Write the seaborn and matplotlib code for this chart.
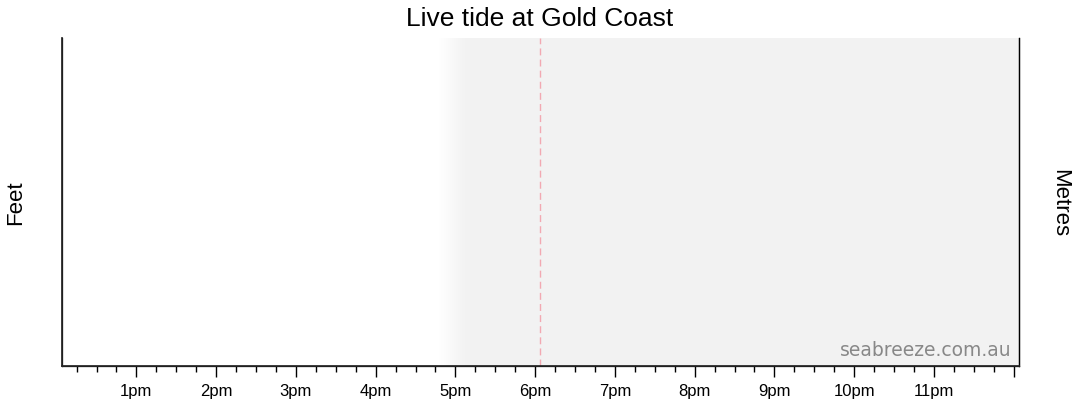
import matplotlib
matplotlib.use("Agg")
import matplotlib.pyplot as plt
import seaborn as sns
import numpy as np
import pandas as pd

# time axis in hours since midnight (window is now -6h .. now +6h)
window_start = 12 + 4 / 60
window_end = 24 + 4 / 60
now_time = 18 + 4 / 60
night_fade_start = 16.8
night_fade_end = 17.15

tick_hours = [13, 14, 15, 16, 17, 18, 19, 20, 21, 22, 23, 24]
tick_labels = ['1pm', '2pm', '3pm', '4pm', '5pm', '6pm', '7pm', '8pm', '9pm', '10pm', '11pm', '']

# no tide readings available for this window
tide_time = []
tide_height = []

sns.set_theme(style="ticks")
plt.rcParams['font.family'] = ['Liberation Sans', 'DejaVu Sans']
plt.rcParams['text.color'] = 'black'
plt.rcParams['axes.labelcolor'] = 'black'
plt.rcParams['xtick.color'] = 'black'
plt.rcParams['xtick.labelcolor'] = 'black'

fig = plt.figure(figsize=(10.8, 4.14), dpi=100)
ax = fig.add_axes([62 / 1080, 1 - 367 / 414, (1019 - 62) / 1080, (367 - 39) / 414])

df = pd.DataFrame({'time': tide_time, 'height': tide_height})
sns.lineplot(data=df, x='time', y='height', ax=ax, color='#1f77b4')

# night shading with a soft fade in
grad = np.linspace(0, 1, 64).reshape(1, -1)
fade_cmap = matplotlib.colors.LinearSegmentedColormap.from_list('fade', ['#ffffff', '#f2f2f2'])
ax.imshow(grad, extent=[night_fade_start, night_fade_end, 0, 1], aspect='auto',
          cmap=fade_cmap, zorder=0, interpolation='bilinear')
ax.axvspan(night_fade_end, window_end, color='#f2f2f2', lw=0, zorder=0)

ax.axvline(now_time, color='#f2a9b2', lw=1, ls=(0, (5, 3)), zorder=1)

ax.set_xlim(window_start, window_end)
ax.set_ylim(0, 1)
ax.set_xticks(tick_hours)
ax.set_xticklabels(tick_labels, fontsize=12)
ax.set_xticks(np.arange(12.25, 24.1, 0.25), minor=True)
ax.tick_params(axis='x', which='major', length=8, width=1, color='black', pad=4)
ax.tick_params(axis='x', which='minor', length=4, width=1, color='black')
ax.set_yticks([])
ax.set_xlabel('')
ax.set_ylabel('Feet', fontsize=16, labelpad=26)

for side in ['left', 'right', 'bottom']:
    ax.spines[side].set_color('black')
    ax.spines[side].set_linewidth(0.9)
ax.spines['top'].set_visible(False)

ax2 = ax.twinx()
ax2.set_yticks([])
ax2.set_ylabel('Metres', fontsize=16, rotation=270, labelpad=37)
ax2.spines['top'].set_visible(False)
ax2.spines['right'].set_color('black')
ax2.spines['right'].set_linewidth(0.9)

ax.text(0.992, 0.022, 'seabreeze.com.au', transform=ax.transAxes, ha='right', va='bottom',
        fontsize=13.5, color='#888888', family=['DejaVu Sans'])

fig.suptitle('Live tide at Gold Coast', fontsize=19, y=0.982, va='top')

fig.savefig('out.png', dpi=100, facecolor='white')
